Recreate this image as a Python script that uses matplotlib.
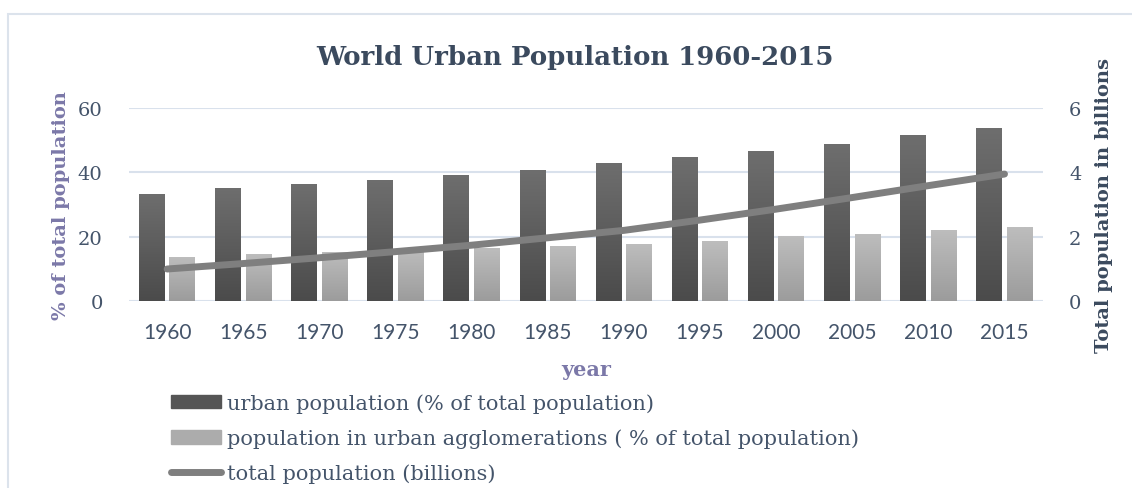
import numpy as np
import matplotlib
matplotlib.use("Agg")
import matplotlib.pyplot as plt
from matplotlib.patches import Rectangle
from matplotlib.lines import Line2D

years = ["1960", "1965", "1970", "1975", "1980", "1985",
         "1990", "1995", "2000", "2005", "2010", "2015"]
urban_pct = [33.4, 35.3, 36.5, 37.7, 39.3, 40.8, 42.9, 44.9, 46.6, 48.8, 51.6, 53.7]
agglom_pct = [13.8, 14.6, 15.3, 16.0, 16.6, 17.2, 17.7, 18.6, 20.1, 20.9, 22.1, 22.9]
total_bn = [1.00, 1.17, 1.35, 1.54, 1.74, 1.97, 2.20, 2.52, 2.86, 3.22, 3.59, 3.95]

SERIF = ["DejaVu Serif"]
SANS = ["Lato", "DejaVu Sans"]
TEXT = "#44546a"
PURPLE = "#7b78a8"
GRID = "#d9e1ec"

plt.rcParams["font.family"] = SERIF

fig = plt.figure(figsize=(11.32, 4.89), dpi=100)
ax = fig.add_axes([0.114, 0.382, 0.807, 0.395])
ax2 = ax.twinx()

x = np.arange(len(years))
w = 0.34
off = 0.2


def gradient_bars(axis, xs, vals, top, bottom):
    bars = axis.bar(xs, vals, width=w, color=bottom, zorder=2)
    grad = np.linspace(0, 1, 64).reshape(-1, 1)
    cmap = matplotlib.colors.LinearSegmentedColormap.from_list("g", [bottom, top])
    for b in bars:
        x0, y0 = b.get_x(), b.get_y()
        im = axis.imshow(grad, extent=[x0, x0 + b.get_width(), y0, y0 + b.get_height()],
                         origin="lower", cmap=cmap, aspect="auto", zorder=2.1)
        im.set_clip_path(b)
    return bars


gradient_bars(ax, x - off, urban_pct, "#6e6e6e", "#4b4b4b")
gradient_bars(ax, x + off, agglom_pct, "#bdbdbd", "#9c9c9c")

ax.set_xlim(-0.5, len(years) - 0.5)
ax.set_ylim(0, 60)
ax.set_yticks([0, 20, 40, 60])
ax.set_xticks(x)
ax.set_xticklabels(years, family=SANS)
ax.grid(axis="y", color=GRID, linewidth=1.5, zorder=0)
ax.set_axisbelow(True)

ax2.plot(x, total_bn, color="#7f7f7f", linewidth=5, solid_capstyle="round", zorder=3)
ax2.set_ylim(0, 6)
ax2.set_yticks([0, 2, 4, 6])

for a in (ax, ax2):
    for s in a.spines.values():
        s.set_visible(False)
    a.tick_params(length=0, labelsize=14, colors=TEXT)
ax.tick_params(axis="x", pad=15, labelsize=15)
ax.tick_params(axis="y", pad=19)
ax2.tick_params(axis="y", pad=19)

ax.set_ylabel("% of total population", fontsize=14, fontweight="bold", color=PURPLE, labelpad=6)
ax2.set_ylabel("Total population in billions", fontsize=14, fontweight="bold", color="#3b4a5e", labelpad=10)
ax.set_xlabel("year", fontsize=15, fontweight="bold", color=PURPLE, labelpad=12)

fig.text(0.508, 0.883, "World Urban Population 1960-2015", ha="center", va="center",
         fontsize=18.7, fontweight="bold", color="#3b4a5e")

handles = [
    Rectangle((0, 0), 1, 1, color="#555555"),
    Rectangle((0, 0), 1, 1, color="#acacac"),
    Line2D([0], [0], color="#7f7f7f", linewidth=5, solid_capstyle="round"),
]
labels = [
    "urban population (% of total population)",
    "population in urban agglomerations ( % of total population)",
    "total population (billions)",
]
fig.legend(handles, labels, loc="upper left", bbox_to_anchor=(0.151, 0.194), frameon=False,
           fontsize=15, labelcolor=TEXT, handlelength=2.4, handleheight=0.65,
           handletextpad=0.3, labelspacing=0.74, borderaxespad=0, borderpad=0)

# chart frame
fig.patches.append(Rectangle((0.007, -0.05), 1.2, 0.02 + 0.999, transform=fig.transFigure,
                             fill=False, edgecolor="#dce3ec", linewidth=1.5))

fig.savefig("out.png", dpi=100, facecolor="white")
